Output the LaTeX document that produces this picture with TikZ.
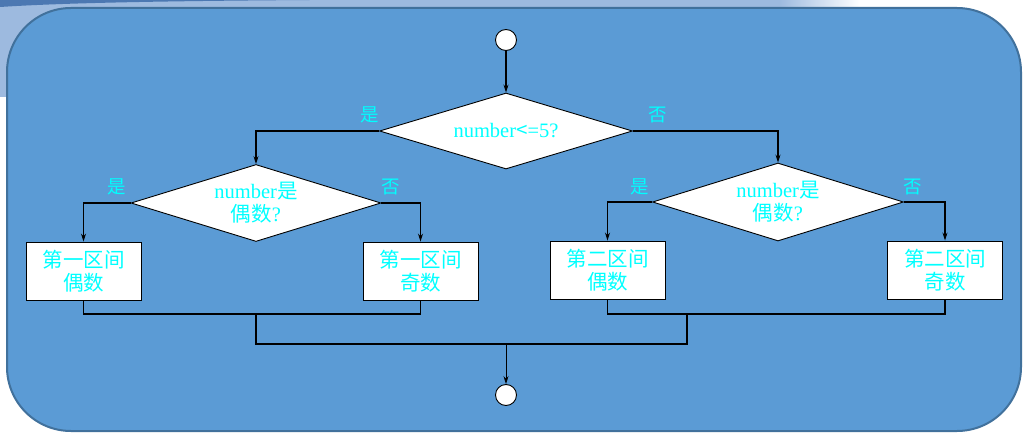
\documentclass[tikz,border=0pt]{standalone}
\usepackage{fontspec}
\setmainfont{Liberation Serif}
\newfontfamily\cjk{Noto Sans CJK SC}
\usetikzlibrary{shapes.geometric,arrows.meta,calc}
\definecolor{panel}{HTML}{5B9BD5}
\definecolor{panelline}{HTML}{41719C}
\definecolor{lightbg}{HTML}{9DBADF}
\definecolor{swoosh}{HTML}{4C78B2}
\definecolor{txt}{HTML}{00FFFF}
\begin{document}
\begin{tikzpicture}[x=1pt,y=-1pt,
  every node/.style={font=\fontsize{20.5}{23}\selectfont, text=txt, align=center},
  dia/.style={diamond, draw=black, fill=white, line width=0.9pt, inner sep=0pt, aspect=3.3},
  box/.style={rectangle, draw=black, fill=white, line width=0.9pt, minimum width=115pt, minimum height=58pt, inner sep=0pt},
  term/.style={circle, draw=black, fill=white, line width=0.9pt, minimum size=21pt, inner sep=0pt},
  lab/.style={font=\fontsize{18.5}{20}\selectfont\cjk, text=txt},
  conn/.style={draw=black, line width=1.1pt},
  arr/.style={conn, -{Stealth[length=8pt,width=5pt]}}]
\useasboundingbox (0,0) rectangle (1023,433);
\fill[white] (0,0) rectangle (1023,433);
% slide decoration
\fill[lightbg] (0,0) rectangle (780,12);
\shade[left color=lightbg, right color=white] (779,0) rectangle (860,12);
\fill[lightbg] (0,0) rectangle (80,97);
\fill[swoosh] (0,0) -- (310,0) .. controls (160,1) and (60,3) .. (0,7) -- cycle;
% panel
\draw[fill=panel, draw=panelline, line width=2pt, rounded corners=64pt] (7,8) rectangle (1021,431);

% nodes
\node[term] (start) at (506,40) {};
\node[dia, minimum width=253pt, minimum height=76pt] (d1) at (506,131) {number{\cjk <}=5?};
\node[dia, minimum width=250pt, minimum height=77pt] (d2) at (256,203) {number{\cjk 是}\\{\cjk 偶数}?};
\node[dia, minimum width=251pt, minimum height=78pt] (d3) at (778,202) {number{\cjk 是}\\{\cjk 偶数}?};
\node[box] (b1) at (83.5,271) {\cjk 第一区间\\\cjk 偶数};
\node[box] (b2) at (420.5,271) {\cjk 第一区间\\\cjk 奇数};
\node[box] (b3) at (607.5,270) {\cjk 第二区间\\\cjk 偶数};
\node[box] (b4) at (945,270) {\cjk 第二区间\\\cjk 奇数};
\node[term] (end) at (506,395) {};

% labels
\node[lab] (y1) at (370,115) {是};
\node[lab] (n1) at (658,115) {否};
\node[lab] (y2) at (117,187) {是};
\node[lab] (n2) at (391,187) {否};
\node[lab] (y3) at (640,187) {是};
\node[lab] (n3) at (913,187) {否};

% connectors
\draw[arr] (start) -- (d1.north);
\draw[arr] (d1.west) -| (d2.north);
\draw[arr] (d1.east) -| (d3.north);
\draw[arr] (d2.west) -| (b1.north);
\draw[arr] (d2.east) -| (b2.north);
\draw[arr] (d3.west) -| (b3.north);
\draw[arr] (d3.east) -| (b4.north);
\coordinate (m1) at (256,314);
\coordinate (m2) at (687,314);
\coordinate (m3) at (506,344);
\draw[conn] (b1.south) |- (m1) -| (b2.south);
\draw[conn] (b3.south) |- (m2) -| (b4.south);
\draw[conn] (m1) |- (m3) -| (m2);
\draw[arr, line width=0.8pt] (m3) -- (end);
\end{tikzpicture}
\end{document}
